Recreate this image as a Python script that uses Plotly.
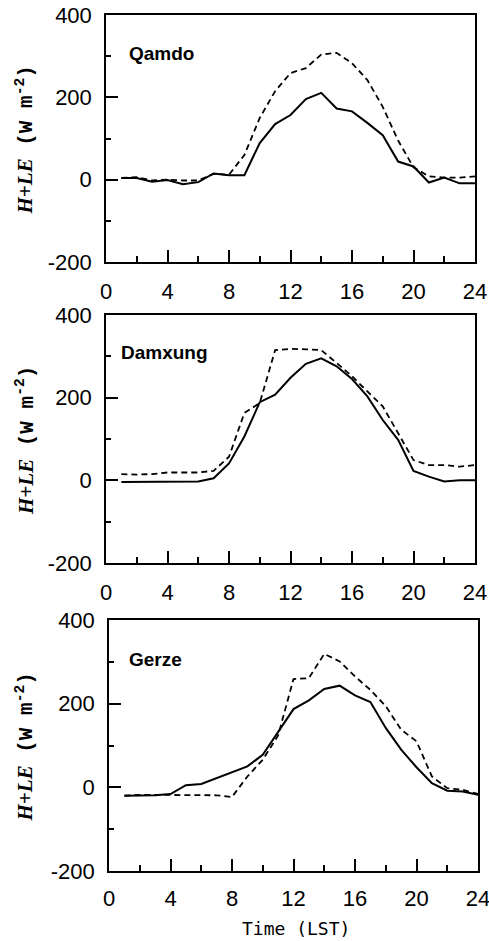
import plotly.graph_objects as go

hours = list(range(1, 25))

stations = ["Qamdo", "Damxung", "Gerze"]

qamdo_solid = [4, 4, -5, -1, -11, -6, 15, 11, 11, 89, 135, 157, 196, 211, 173, 166, 138, 108, 44, 32, -7, 5, -9, -9]
qamdo_dash = [4, 6, -2, 0, -2, -2, 14, 12, 60, 150, 215, 259, 271, 304, 308, 283, 242, 177, 95, 30, 8, 5, 5, 8]

damxung_solid = [-4, -4, -3, -3, -3, -3, 5, 41, 106, 189, 207, 248, 282, 295, 276, 245, 203, 146, 98, 23, 9, -3, 0, 0]
damxung_dash = [15, 14, 15, 19, 19, 19, 23, 57, 163, 187, 315, 318, 317, 315, 284, 252, 215, 179, 114, 49, 37, 37, 33, 37]

gerze_solid = [-20, -19, -19, -16, 5, 8, 22, 37, 50, 78, 134, 187, 208, 235, 243, 220, 204, 142, 90, 48, 10, -8, -10, -18]
gerze_dash = [-20, -18, -18, -18, -19, -19, -19, -23, 26, 66, 124, 259, 261, 319, 301, 265, 233, 194, 138, 110, 26, -2, -6, -16]

solid_series = [qamdo_solid, damxung_solid, gerze_solid]
dash_series = [qamdo_dash, damxung_dash, gerze_dash]

x_ticks = [0, 4, 8, 12, 16, 20, 24]
y_ticks = [-200, 0, 200, 400]
y_tick_text = ["-200", "0", "200", "400"]

W, H = 489, 941
# panel pixel boxes: (left, right, top, bottom)
boxes = [(106, 475, 15, 262), (106, 475, 315, 563), (109, 478, 620, 871)]
label_pos = [(127, 53), (119, 353), (127, 659)]
x_standoff = [9, 9, 7]

fig = go.Figure()
tickfont = dict(family="Liberation Sans", size=22, color="black")

for i in range(3):
    xa = "x" if i == 0 else f"x{i+1}"
    ya = "y" if i == 0 else f"y{i+1}"
    fig.add_trace(go.Scatter(x=hours, y=dash_series[i], mode="lines",
                             line=dict(color="black", width=1.8, dash="6px,4px"),
                             xaxis=xa, yaxis=ya, showlegend=False))
    fig.add_trace(go.Scatter(x=hours, y=solid_series[i], mode="lines",
                             line=dict(color="black", width=2),
                             xaxis=xa, yaxis=ya, showlegend=False))
    l, r, t, b = boxes[i]
    xkey = "xaxis" if i == 0 else f"xaxis{i+1}"
    ykey = "yaxis" if i == 0 else f"yaxis{i+1}"
    fig.layout[xkey] = dict(
        domain=[l / W, r / W], anchor=ya, range=[0, 24], automargin=False,
        tickmode="array", tickvals=x_ticks, ticks="inside", ticklen=12, tickwidth=1.5,
        tickcolor="black", showline=True, linecolor="black", linewidth=1.5, mirror=True,
        showgrid=False, zeroline=False, tickfont=tickfont, ticklabelstandoff=x_standoff[i],
        ticklabeloverflow="allow",
        minor=dict(tickmode="array", tickvals=[2, 6, 10, 14, 18, 22], ticks="inside",
                   ticklen=6, tickwidth=1.5, tickcolor="black"),
    )
    fig.layout[ykey] = dict(
        domain=[1 - b / H, 1 - t / H], anchor=xa, range=[-200, 400], automargin=False,
        tickmode="array", tickvals=y_ticks, ticktext=y_tick_text, ticks="inside",
        ticklen=12, tickwidth=1.5, tickcolor="black",
        showline=True, linecolor="black", linewidth=1.5, mirror=True,
        showgrid=False, zeroline=False, tickfont=tickfont, ticklabelstandoff=8,
        ticklabeloverflow="allow",
        minor=dict(tickmode="array", tickvals=[-100, 100, 300], ticks="inside",
                   ticklen=5, tickwidth=1.5, tickcolor="black"),
    )
    lx, ly = label_pos[i]
    fig.add_annotation(x=lx / W, y=1 - ly / H, xref="paper", yref="paper",
                       text=f"<b>{stations[i]}</b>", showarrow=False,
                       xanchor="left", yanchor="middle",
                       font=dict(family="Liberation Sans", size=19, color="black"))
    fig.add_annotation(x=25 / W, y=1 - ((t + b) / 2 + 2) / H, xref="paper", yref="paper",
                       text=("<span style='font-family:Liberation Serif'><b><i>H+LE</i></b></span>"
                             " <span style='font-family:Liberation Mono'><b>(W m<sup>-2</sup>)</b></span>"),
                       showarrow=False, textangle=-90, xanchor="center", yanchor="middle",
                       font=dict(family="Liberation Mono", size=21, color="black"))

fig.add_annotation(x=296 / W, y=1 - 928 / H, xref="paper", yref="paper",
                   text="Time (LST)", showarrow=False, xanchor="center", yanchor="middle",
                   font=dict(family="DejaVu Sans Mono", size=18, color="black"))

fig.update_layout(width=W, height=H, margin=dict(l=0, r=0, t=0, b=0),
                  paper_bgcolor="white", plot_bgcolor="white")

fig.write_html("out.html", config={"displayModeBar": False},
               post_script="document.body.style.margin='0';document.body.style.overflow='hidden';")
